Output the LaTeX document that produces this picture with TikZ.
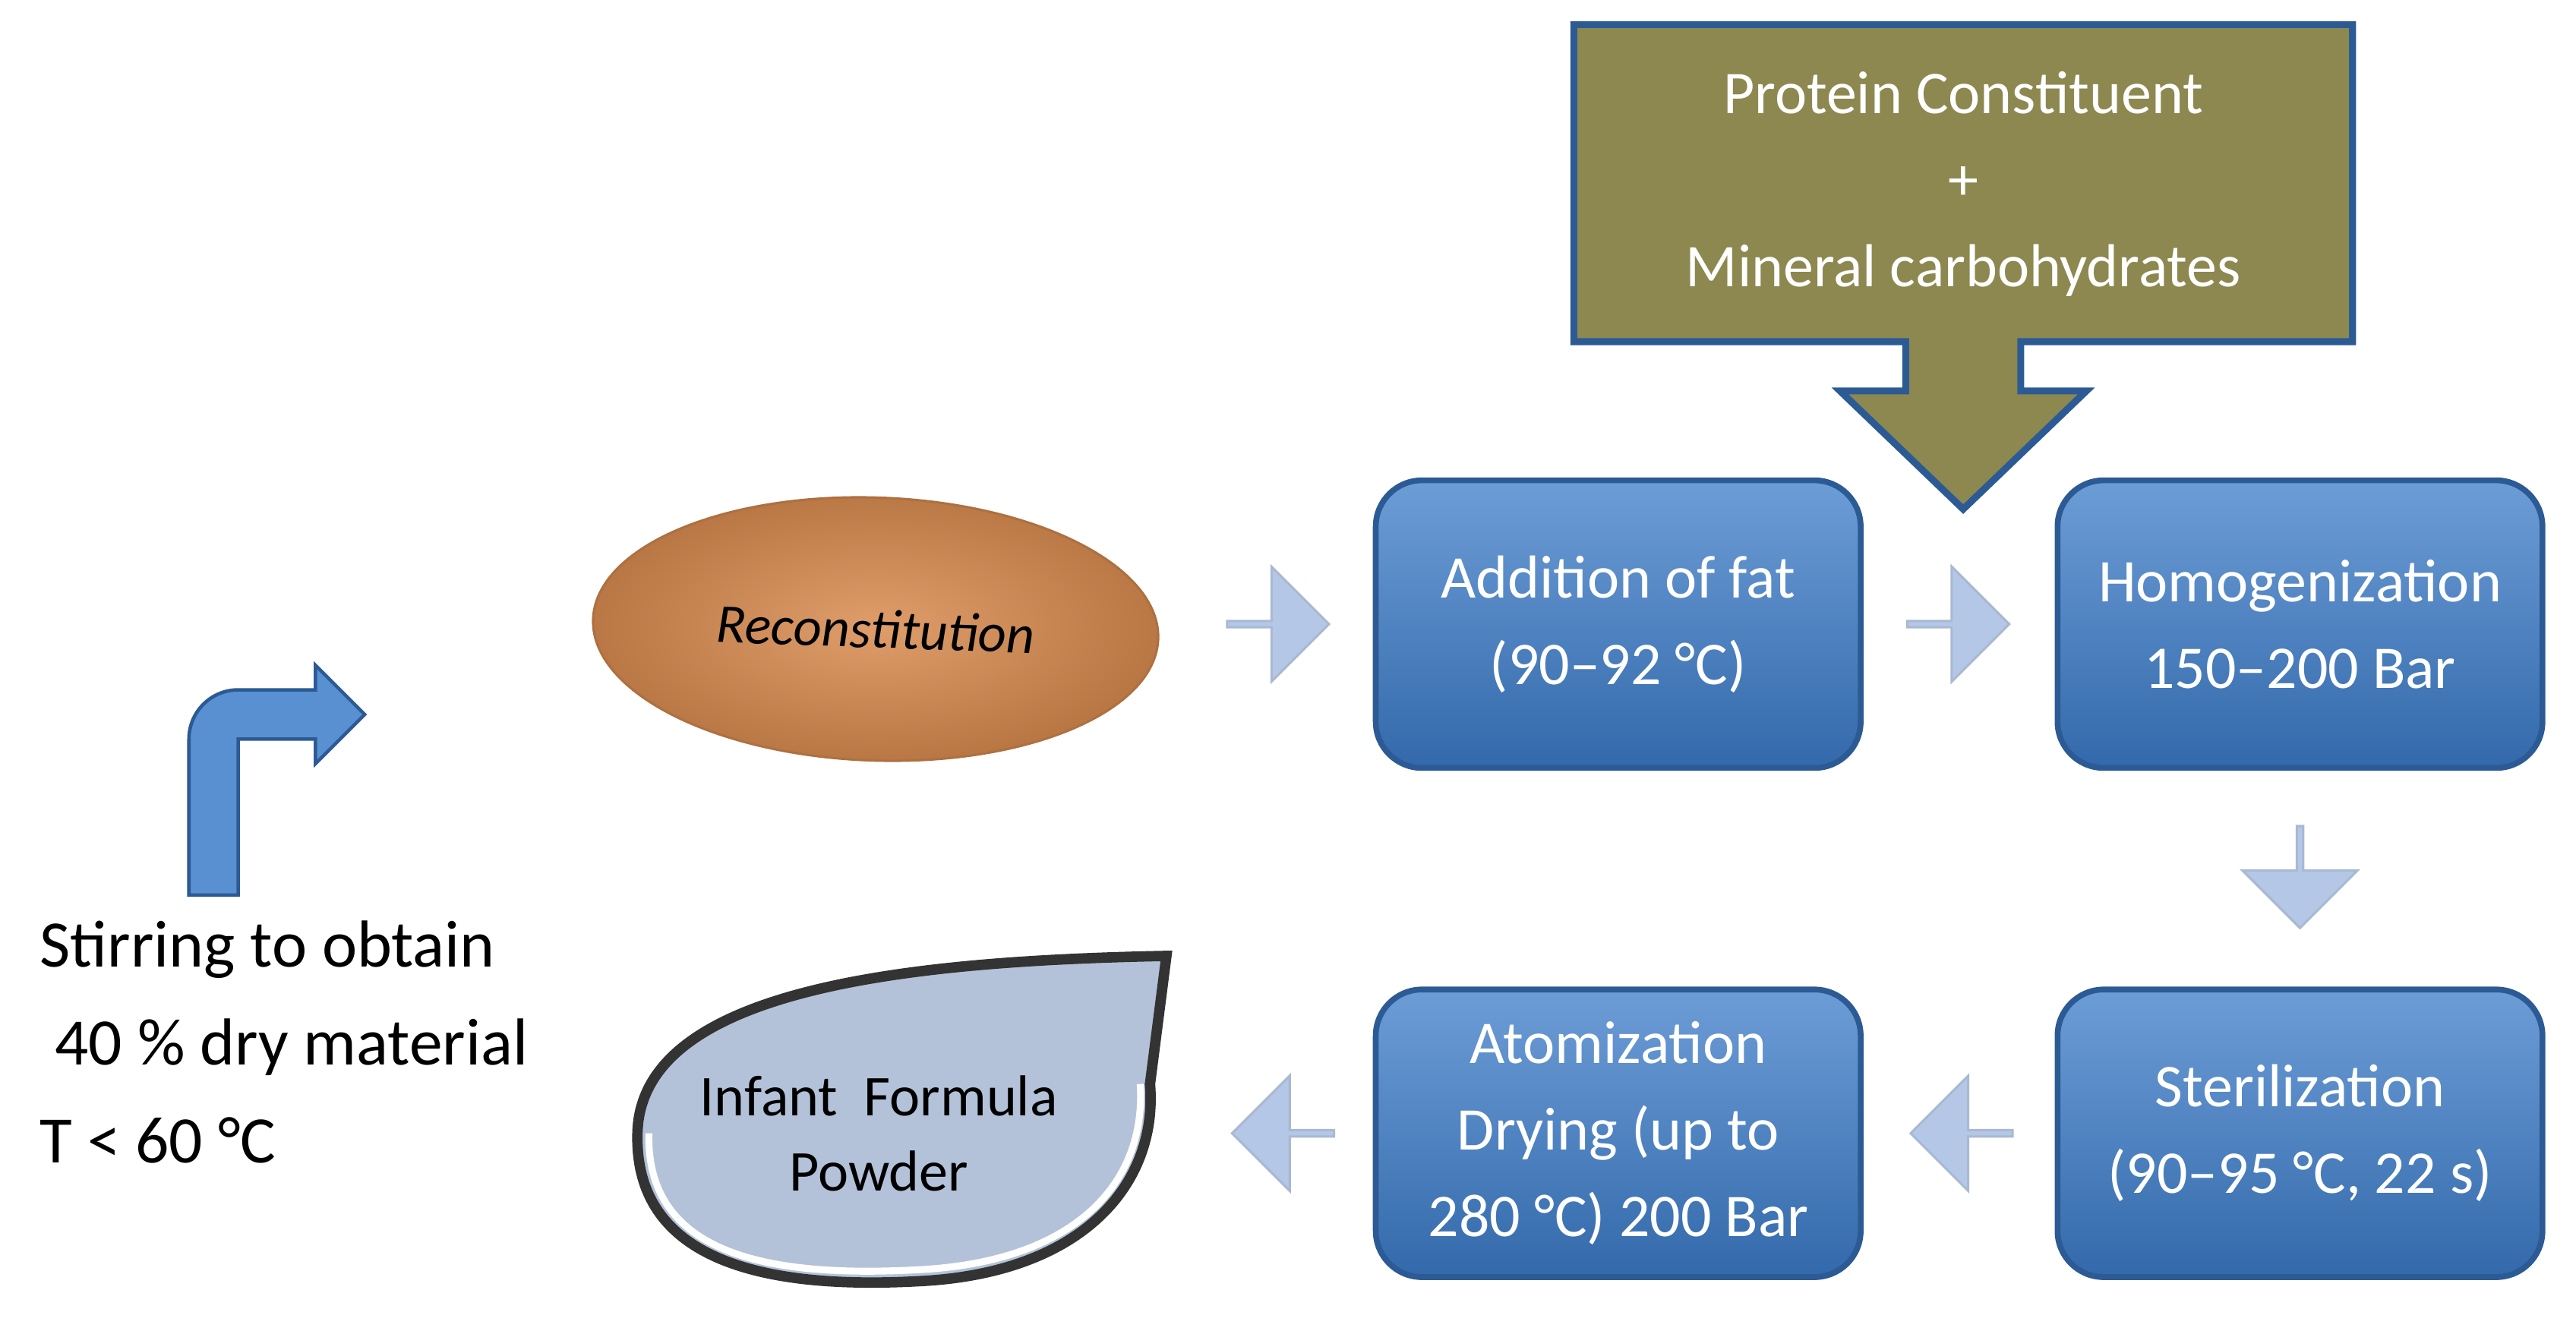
\documentclass[tikz,border=0pt]{standalone}
\usepackage{fontspec}
\setmainfont{Carlito}
\usetikzlibrary{shapes.geometric,shapes.arrows}
\definecolor{boxblue}{HTML}{3C7CC9}
\definecolor{boxedge}{HTML}{2C5A94}
\definecolor{pale}{HTML}{B4C7E7}
\definecolor{olive}{HTML}{8C8850}
\definecolor{orng}{HTML}{D98C50}
\definecolor{grey}{HTML}{B3C2D8}
\begin{document}
\begin{tikzpicture}[x=0.01cm,y=-0.01cm,
    stage/.style={rectangle, rounded corners=8pt, draw=boxedge, line width=1pt,
        top color=boxblue!75!white, bottom color=boxblue!85!black, text=white,
        minimum width=2.95cm, minimum height=1.75cm, align=center,
        font=\fontsize{10.5}{15}\selectfont},
    flow/.style={single arrow, draw=pale!80!gray, fill=pale, minimum height=0.62cm,
        minimum width=0.7cm, single arrow head extend=0.12cm, inner sep=0pt}]
  \useasboundingbox (0,0) rectangle (1568,810);

  % input box with arrow
  \draw[draw=boxedge, line width=1.2pt, fill=olive]
    (958,15) -- (1432,15) -- (1432,208) -- (1230,208) -- (1230,238) -- (1270,238)
    -- (1195,310) -- (1120,238) -- (1160,238) -- (1160,208) -- (958,208) -- cycle;
  \node[text=white, align=center, font=\fontsize{10.5}{15}\selectfont] (input) at (1195,112)
    {Protein Constituent\\+\\Mineral carbohydrates};

  % reconstitution
  \node[ellipse, minimum width=3.44cm, minimum height=1.6cm, draw=orng!80!black,
    inner color=orng!85!white, outer color=orng!85!black, font=\fontsize{9.5}{11}\selectfont\itshape,
    rotate=-2] (recon) at (533,383) {Reconstitution};

  % process steps
  \node[stage] (fat) at (985,380) {Addition of fat\\(90--92 °C)};
  \node[stage] (homo) at (1400,380) {Homogenization\\150--200 Bar};
  \node[stage] (steril) at (1400,690) {Sterilization\\(90--95 °C, 22 s)};
  \node[stage] (atom) at (985,690) {Atomization\\Drying (up to\\280 °C) 200 Bar};

  % light arrows
  \node[flow] (a1) at (777,380) {};
  \node[flow] (a2) at (1191,380) {};
  \node[flow, rotate=-90] (a3) at (1400,533) {};
  \node[flow, rotate=180] (a4) at (1195,690) {};
  \node[flow, rotate=180] (a5) at (782,690) {};

  % bent arrow
  \draw[draw=boxedge, fill=boxblue!85!white, line width=0.6pt]
    (115,545) -- (115,450) arc[start angle=180, end angle=270, radius=30] -- (192,420)
    -- (192,405) -- (222,435) -- (192,465) -- (192,450) -- (145,450) -- (145,545) -- cycle;

  % left text
  \node[anchor=north west, align=left, font=\fontsize{11.5}{17}\selectfont] (stir) at (12,548)
    {Stirring to obtain\\\ 40 \% dry material\\T < 60 °C};

  % product
  \draw[draw=black!80, line width=1.8pt, fill=grey]
    (710,582) .. controls (560,585) and (390,600) .. (388,690)
    .. controls (386,770) and (470,785) .. (560,780)
    .. controls (660,775) and (705,720) .. (700,660) -- cycle;
  \draw[white, line width=1.2pt]
    (395,690) .. controls (393,765) and (470,778) .. (560,773)
    .. controls (655,768) and (698,720) .. (694,660);
  \node[align=center, font=\fontsize{10}{13}\selectfont] (powder) at (535,690)
    {Infant\ \ Formula\\Powder};
\end{tikzpicture}
\end{document}
